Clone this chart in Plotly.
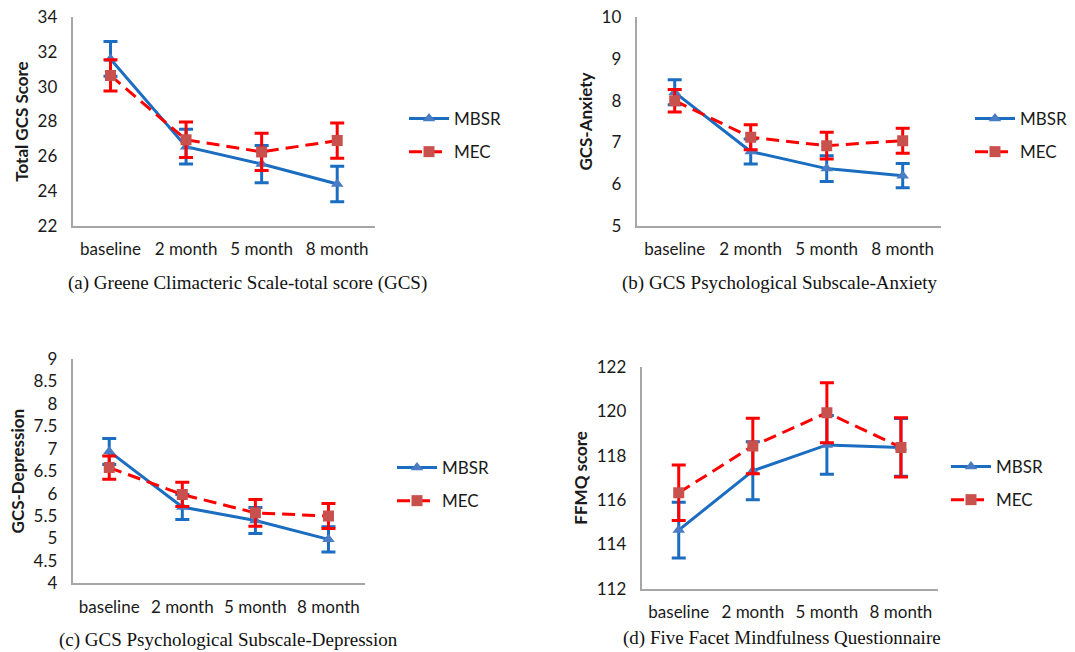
import plotly.graph_objects as go

W, H = 1075, 652

categories = ["baseline", "2 month", "5 month", "8 month"]
series_names = ["MBSR", "MEC"]

# (a) Greene Climacteric Scale-total score
gcs_mbsr = [31.6, 26.55, 25.55, 24.4]
gcs_mbsr_err = [1.0, 1.0, 1.07, 1.02]
gcs_mec = [30.65, 26.95, 26.25, 26.9]
gcs_mec_err = [0.9, 1.02, 1.07, 1.02]

# (b) Anxiety
anx_mbsr = [8.2, 6.78, 6.37, 6.2]
anx_mbsr_err = [0.3, 0.3, 0.31, 0.29]
anx_mec = [8.0, 7.12, 6.92, 7.04]
anx_mec_err = [0.27, 0.3, 0.32, 0.3]

# (c) Depression
dep_mbsr = [6.94, 5.7, 5.4, 4.98]
dep_mbsr_err = [0.29, 0.28, 0.29, 0.28]
dep_mec = [6.58, 5.98, 5.57, 5.5]
dep_mec_err = [0.26, 0.27, 0.3, 0.28]

# (d) FFMQ
ffmq_mbsr = [114.65, 117.32, 118.48, 118.37]
ffmq_mbsr_err = [1.25, 1.3, 1.32, 1.3]
ffmq_mec = [116.33, 118.43, 119.93, 118.37]
ffmq_mec_err = [1.25, 1.25, 1.35, 1.33]

y_titles = ["Total GCS Score", "GCS-Anxiety", "GCS-Depression", "FFMQ score"]
captions = [
    "(a) Greene Climacteric Scale-total score (GCS)",
    "(b) GCS Psychological Subscale-Anxiety",
    "(c) GCS Psychological Subscale-Depression",
    "(d) Five Facet Mindfulness Questionnaire",
]
y_ranges = [(22, 34, 2), (5, 10, 1), (4, 9, 0.5), (112, 122, 2)]

panels = [
    (gcs_mbsr, gcs_mbsr_err, gcs_mec, gcs_mec_err),
    (anx_mbsr, anx_mbsr_err, anx_mec, anx_mec_err),
    (dep_mbsr, dep_mbsr_err, dep_mec, dep_mec_err),
    (ffmq_mbsr, ffmq_mbsr_err, ffmq_mec, ffmq_mec_err),
]

# layout geometry in pixels: (left, right, top, bottom)
boxes = [
    (72.7, 375.0, 17.3, 225.7),
    (636.7, 940.7, 17.3, 225.7),
    (72.7, 365.0, 359.0, 583.3),
    (641.7, 938.0, 366.7, 589.0),
]
legend_pos = [(404, 101), (970, 101), (392, 450), (946, 449)]
caption_pos = [(247, 283), (780, 283), (228, 640), (782, 638)]

BLUE = "#1A6DC0"
BLUE_M = "#4A7CC4"
RED = "#FF0000"
RED_M = "#C8504D"
AXIS = "#A6A6A6"
TXT = "#1a1a1a"

fig = go.Figure()

for i, (mb, mbe, me, mee) in enumerate(panels):
    idx = "" if i == 0 else str(i + 1)
    xa, ya = "x" + idx, "y" + idx
    leg = "legend" if i == 0 else "legend" + str(i + 1)
    xs = list(range(len(categories)))
    fig.add_trace(go.Scatter(
        x=xs, y=mb, name=series_names[0], xaxis=xa, yaxis=ya, legend=leg,
        legendgroup="a", mode="lines+markers",
        line=dict(color=BLUE, width=3),
        marker=dict(symbol="triangle-up", size=11, color=BLUE_M, line=dict(width=0)),
        error_y=dict(type="data", array=mbe, visible=True, color=BLUE, thickness=3, width=7),
    ))
    fig.add_trace(go.Scatter(
        x=xs, y=me, name=series_names[1], xaxis=xa, yaxis=ya, legend=leg,
        legendgroup="b", mode="lines+markers",
        line=dict(color=RED, width=3, dash="13px,7px"),
        marker=dict(symbol="square", size=11, color=RED_M, line=dict(width=0)),
        error_y=dict(type="data", array=mee, visible=True, color=RED, thickness=3, width=7),
    ))

layout = dict(
    width=W, height=H,
    margin=dict(l=0, r=0, t=0, b=0, autoexpand=False),
    paper_bgcolor="white", plot_bgcolor="white",
    font=dict(family="Lato", size=16, color=TXT),
    annotations=[],
)

for i in range(4):
    idx = "" if i == 0 else str(i + 1)
    l, r, t, b = boxes[i]
    lo, hi, step = y_ranges[i]
    nt = int(round((hi - lo) / step))
    tv = [lo + k * step for k in range(nt + 1)]
    tt = [("%g" % v) for v in tv]
    layout["xaxis" + idx] = dict(
        domain=[l / W, r / W], anchor="y" + idx, automargin=False,
        range=[-0.5, 3.5], tickvals=list(range(4)), ticktext=categories,
        showline=True, linecolor=AXIS, linewidth=2, showgrid=False, zeroline=False,
        ticks="", ticklabelstandoff=7, tickfont=dict(family="Lato", size=17, color=TXT),
        fixedrange=True,
    )
    layout["yaxis" + idx] = dict(
        domain=[1 - b / H, 1 - t / H], anchor="x" + idx, automargin=False,
        range=[lo, hi], tickvals=tv, ticktext=tt,
        showline=True, linecolor=AXIS, linewidth=2, showgrid=False, zeroline=False,
        ticks="", ticklabelstandoff=10, tickfont=dict(family="Lato", size=17, color=TXT),
        title=dict(text=y_titles[i], font=dict(family="Lato", size=17, weight="bold", color=TXT), standoff=5),
        fixedrange=True,
    )
    lx, ly = legend_pos[i]
    layout["legend" if i == 0 else "legend" + str(i + 1)] = dict(
        x=lx / W, y=1 - ly / H, xanchor="left", yanchor="top",
        xref="paper", yref="paper",
        font=dict(family="Lato", size=17, color=TXT),
        bgcolor="rgba(0,0,0,0)", borderwidth=0,
        traceorder="grouped", tracegroupgap=8, itemwidth=40,
    )
    cx, cy = caption_pos[i]
    layout["annotations"].append(dict(
        text=captions[i], x=cx / W, y=1 - cy / H, xref="paper", yref="paper",
        xanchor="center", yanchor="middle", showarrow=False,
        font=dict(family="Liberation Serif", size=19, color="#111111"),
    ))

fig.update_layout(**layout)
fig.write_html(
    "out.html",
    config={"displayModeBar": False},
    post_script="document.body.style.margin='0';document.body.style.overflow='hidden';",
)
